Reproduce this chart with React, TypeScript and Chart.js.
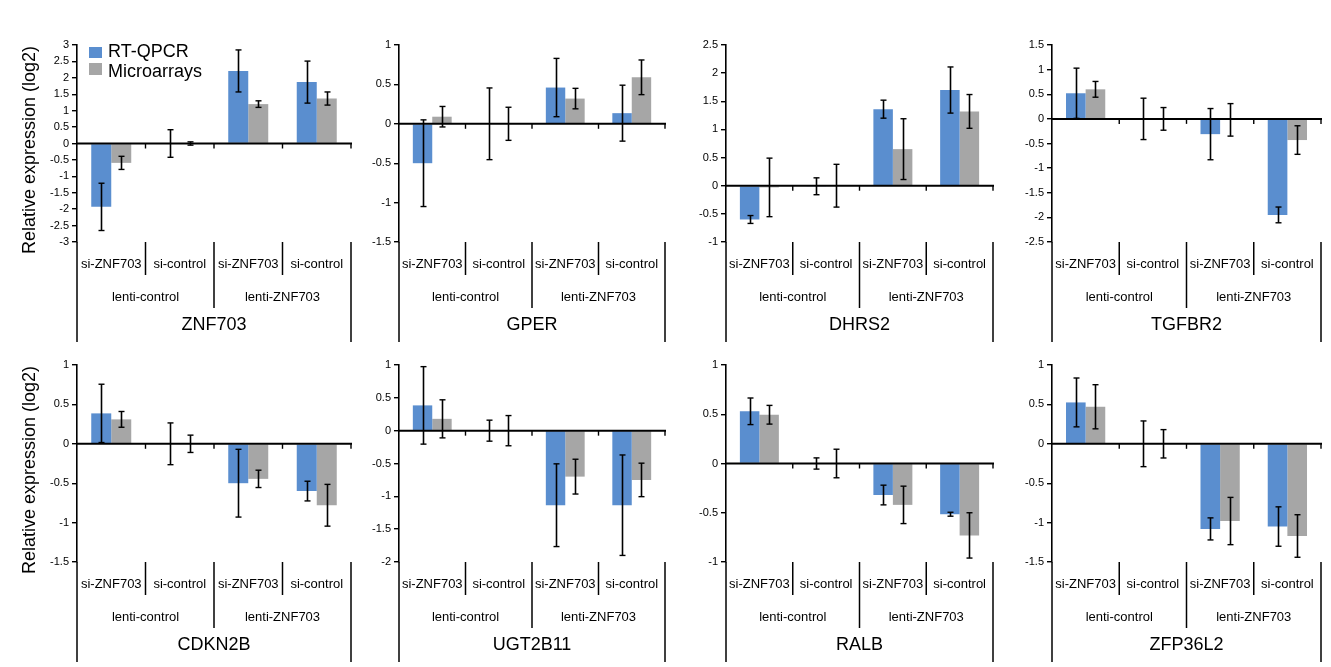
import { useEffect, useRef } from "react";
import { Chart, registerables } from "chart.js";

Chart.register(...registerables);

// ---------- data ----------
const GENES = ["ZNF703", "GPER", "DHRS2", "TGFBR2", "CDKN2B", "UGT2B11", "RALB", "ZFP36L2"];
const CONDITIONS = ["si-ZNF703", "si-control", "si-ZNF703", "si-control"];
const GROUPS = ["lenti-control", "lenti-ZNF703"];
const SERIES = ["RT-QPCR", "Microarrays"];
const Y_MIN = [-3, -1.5, -1, -2.5, -1.5, -2, -1, -1.5];
const Y_MAX = [3, 1, 2.5, 1.5, 1, 1, 1, 1];
const Y_STEP = 0.5;

const QPCR = [
  [-1.93, 0, 2.21, 1.87],
  [-0.5, 0, 0.46, 0.135],
  [-0.6, -0.01, 1.36, 1.7],
  [0.52, 0, -0.31, -1.95],
  [0.386, 0, -0.5, -0.6],
  [0.385, 0, -1.135, -1.135],
  [0.53, 0, -0.32, -0.515],
  [0.525, 0, -1.08, -1.05],
];
const QPCR_ERR = [
  [0.72, 0.42, 0.64, 0.64],
  [0.55, 0.455, 0.37, 0.355],
  [0.07, 0.15, 0.16, 0.41],
  [0.51, 0.42, 0.52, 0.16],
  [0.37, 0.265, 0.43, 0.125],
  [0.59, 0.16, 0.63, 0.765],
  [0.135, 0.057, 0.1, 0.02],
  [0.31, 0.29, 0.14, 0.25],
];
const ARRAYS = [
  [-0.59, 0, 1.2, 1.37],
  [0.09, 0, 0.32, 0.59],
  [-0.03, 0, 0.65, 1.32],
  [0.6, 0, -0.02, -0.43],
  [0.31, 0, -0.445, -0.78],
  [0.18, 0, -0.7, -0.75],
  [0.495, 0, -0.42, -0.73],
  [0.47, 0, -0.98, -1.17],
];
const ARRAYS_ERR = [
  [0.2, 0.05, 0.1, 0.2],
  [0.13, 0.21, 0.13, 0.22],
  [0.52, 0.38, 0.54, 0.3],
  [0.16, 0.23, 0.33, 0.29],
  [0.1, 0.11, 0.11, 0.265],
  [0.29, 0.23, 0.265, 0.255],
  [0.095, 0.145, 0.19, 0.23],
  [0.28, 0.18, 0.3, 0.27],
];

// ---------- layout / style ----------
const FONT = "'Liberation Sans', Arial, Helvetica, sans-serif";
const BLUE = "#5A8ECF";
const GRAY = "#A6A6A6";
const AXIS_X = [77, 399, 726, 1052];
const RIGHT_X = [351, 665, 993, 1321];
const COL_START = [0, 355, 682, 1008, 1331];
const ROW_TOP = [45, 365];
const ROW_BOTTOM = [242, 562];
const ROW_START = [0, 350, 667];
const YW = 40;

function line(ctx: CanvasRenderingContext2D, x1: number, y1: number, x2: number, y2: number) {
  ctx.beginPath();
  ctx.moveTo(x1, y1);
  ctx.lineTo(x2, y2);
  ctx.stroke();
}

function Panel({ index }: { index: number }) {
  const ref = useRef<HTMLCanvasElement | null>(null);
  const c = index % 4;
  const r = Math.floor(index / 4);
  const W = COL_START[c + 1] - COL_START[c];
  const H = ROW_START[r + 1] - ROW_START[r];

  useEffect(() => {
    if (!ref.current) return;
    const decor = {
      id: "decor" + index,
      afterDatasetsDraw(chart: any) {
        const ctx: CanvasRenderingContext2D = chart.ctx;
        const ys = chart.scales.y;
        const xs = chart.scales.x;
        const area = chart.chartArea;
        ctx.save();
        ctx.strokeStyle = "#000";
        // error bars
        chart.data.datasets.forEach((ds: any, di: number) => {
          const meta = chart.getDatasetMeta(di);
          meta.data.forEach((el: any, j: number) => {
            const v = ds.data[j];
            const e = ds.errors[j];
            const px = Math.round(el.x) + 0.5;
            const yt = ys.getPixelForValue(v + e);
            const yb = ys.getPixelForValue(v - e);
            ctx.lineWidth = 1.6;
            line(ctx, px, yt, px, yb);
            ctx.lineWidth = 1.4;
            line(ctx, px - 3, yt, px + 3, yt);
            line(ctx, px - 3, yb, px + 3, yb);
          });
        });
        // zero axis
        const y0 = ys.getPixelForValue(0);
        ctx.lineWidth = 2;
        line(ctx, area.left, y0, area.right + 1, y0);
        ctx.lineWidth = 1.4;
        for (let k = 1; k <= CONDITIONS.length; k++) {
          const bx = xs.getPixelForValue(k - 0.5);
          line(ctx, bx, y0, bx, y0 + 5);
        }
        ctx.restore();
      },
      afterDraw(chart: any) {
        const ctx: CanvasRenderingContext2D = chart.ctx;
        const xs = chart.scales.x;
        const area = chart.chartArea;
        const b = area.bottom;
        const bx = (k: number) => xs.getPixelForValue(k - 0.5);
        ctx.save();
        ctx.strokeStyle = "#000";
        ctx.lineWidth = 1.5;
        line(ctx, bx(0), b, bx(0), b + 100);
        line(ctx, bx(4), b, bx(4), b + 100);
        line(ctx, bx(1), b, bx(1), b + 33);
        line(ctx, bx(3), b, bx(3), b + 33);
        line(ctx, bx(2), b, bx(2), b + 66);
        ctx.fillStyle = "#000";
        ctx.textAlign = "center";
        ctx.textBaseline = "middle";
        ctx.font = `13px ${FONT}`;
        CONDITIONS.forEach((t, k) => ctx.fillText(t, xs.getPixelForValue(k), b + 22));
        GROUPS.forEach((t, g) => ctx.fillText(t, (bx(2 * g) + bx(2 * g + 2)) / 2, b + 55));
        ctx.font = `18px ${FONT}`;
        ctx.fillText(GENES[index], (area.left + area.right) / 2, b + 83);
        if (c === 0) {
          ctx.save();
          ctx.translate(30, r === 0 ? 150 : 120);
          ctx.rotate(-Math.PI / 2);
          ctx.font = `18px ${FONT}`;
          ctx.fillText("Relative expression (log2)", 0, 0);
          ctx.restore();
        }
        if (index === 0) {
          const colors = [BLUE, GRAY];
          ctx.textAlign = "left";
          ctx.font = `18px ${FONT}`;
          SERIES.forEach((s, si) => {
            const ry = si === 0 ? 47 : 63;
            const ty = si === 0 ? 52.5 : 72;
            ctx.fillStyle = colors[si];
            ctx.fillRect(89, ry, 13, si === 0 ? 11 : 12);
            ctx.fillStyle = "#000";
            ctx.fillText(s, 108, ty);
          });
        }
        ctx.restore();
      },
    };

    const chart = new Chart(ref.current, {
      type: "bar",
      data: {
        labels: CONDITIONS,
        datasets: [
          {
            label: SERIES[0],
            data: QPCR[index],
            errors: QPCR_ERR[index],
            backgroundColor: BLUE,
            borderWidth: 0,
            categoryPercentage: 0.584,
            barPercentage: 1,
          } as any,
          {
            label: SERIES[1],
            data: ARRAYS[index],
            errors: ARRAYS_ERR[index],
            backgroundColor: GRAY,
            borderWidth: 0,
            categoryPercentage: 0.584,
            barPercentage: 1,
          } as any,
        ],
      },
      options: {
        responsive: false,
        animation: false,
        devicePixelRatio: 1,
        layout: {
          padding: {
            left: AXIS_X[c] - COL_START[c] - YW,
            right: COL_START[c + 1] - RIGHT_X[c],
            top: ROW_TOP[r] - ROW_START[r],
            bottom: ROW_START[r + 1] - ROW_BOTTOM[r],
          },
        },
        plugins: { legend: { display: false }, tooltip: { enabled: false } },
        scales: {
          x: { display: false, offset: true },
          y: {
            min: Y_MIN[index],
            max: Y_MAX[index],
            afterFit: (s: any) => {
              s.width = YW;
            },
            ticks: {
              stepSize: Y_STEP,
              color: "#000",
              padding: 3,
              font: { size: 11, family: FONT },
              callback: (v: any) => String(Math.round(Number(v) * 10) / 10),
            },
            grid: { drawOnChartArea: false, drawTicks: true, tickLength: 5, color: "#000", lineWidth: 1.4 },
            border: { display: true, color: "#000", width: 1.6 },
          },
        },
      } as any,
      plugins: [decor],
    });
    return () => chart.destroy();
  }, [index]);

  return (
    <canvas
      ref={ref}
      width={W}
      height={H}
      style={{ position: "absolute", left: COL_START[c], top: ROW_START[r], width: W, height: H, display: "block" }}
    />
  );
}

export default function App() {
  return (
    <div style={{ position: "absolute", left: 0, top: 0, width: 1331, height: 667, background: "#fff" }}>
      {GENES.map((g, i) => (
        <Panel key={g} index={i} />
      ))}
    </div>
  );
}
